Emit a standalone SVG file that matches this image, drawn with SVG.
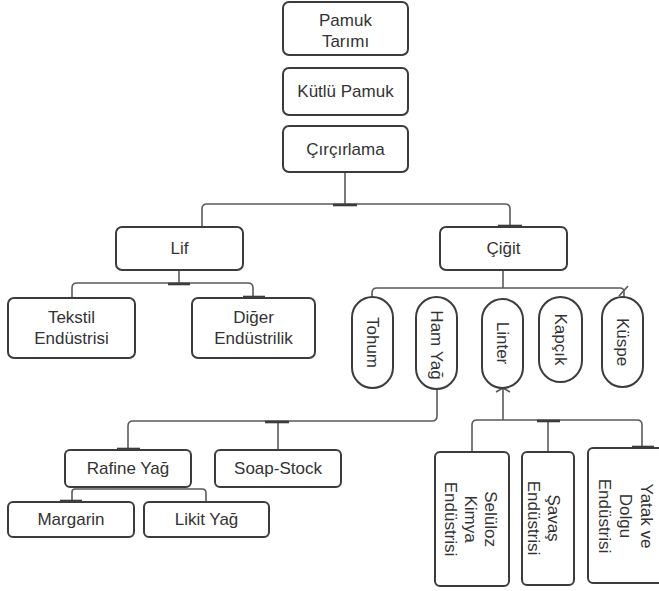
<svg xmlns="http://www.w3.org/2000/svg" width="659" height="591" viewBox="0 0 659 591">
  <style>
    .box { fill: #ffffff; stroke: #3c3c3c; stroke-width: 2; }
    .lbl { font-family: "Liberation Sans", Arial, sans-serif; font-size: 17px; fill: #333333; text-anchor: middle; }
    .wire { fill: none; stroke: #5a5a5a; stroke-width: 1.6; }
    .tick { stroke: #3c3c3c; stroke-width: 2.6; }
  </style>
  <rect x="0" y="0" width="659" height="591" fill="#ffffff"/>

  <g id="connectors">
    <path class="wire" d="M345,172 V204"/>
    <path class="wire" d="M202,227 V209 Q202,204 207,204 H505 Q510,204 510,209 V227"/>
    <line class="tick" x1="333" y1="205" x2="357" y2="205"/>
    <line class="tick" x1="498" y1="226" x2="522" y2="226"/>

    <path class="wire" d="M179,270 V283"/>
    <path class="wire" d="M72,298 V288 Q72,283 77,283 H248 Q253,283 253,288 V298"/>
    <line class="tick" x1="168" y1="284" x2="190" y2="284"/>
    <line class="tick" x1="243" y1="297" x2="265" y2="297"/>

    <path class="wire" d="M503,270 V288"/>
    <path class="wire" d="M372,297 V293 Q372,288 377,288 H620 Q624,288 624,292 V297"/>
    <line class="wire" x1="619" y1="296" x2="628" y2="286"/>

    <path class="wire" d="M437,388 V416 Q437,421 432,421 H133 Q128,421 128,426 V450"/>
    <path class="wire" d="M278,421 V450"/>
    <line class="tick" x1="265" y1="422" x2="289" y2="422"/>
    <line class="tick" x1="117" y1="449" x2="140" y2="449"/>

    <path class="wire" d="M72,502 V492 Q72,489 75,489 H202 Q206,489 206,493 V502"/>
    <line class="tick" x1="60" y1="501" x2="82" y2="501"/>

    <path class="wire" d="M503,388 V420"/>
    <path class="wire" d="M496,392 L503,388 L510,392"/>
    <path class="wire" d="M472,452 V425 Q472,420 477,420 H637 Q642,420 642,425 V448"/>
    <path class="wire" d="M548,420 V452"/>
    <line class="tick" x1="537" y1="421" x2="560" y2="421"/>
    <line class="tick" x1="632" y1="447" x2="654" y2="447"/>
  </g>

  <g id="pamuk-tarimi">
    <rect class="box" x="283" y="2" width="125" height="53" rx="6"/>
    <text class="lbl" x="345.5" y="26">Pamuk</text>
    <text class="lbl" x="345.5" y="47">Tarımı</text>
  </g>
  <g id="kutlu-pamuk">
    <rect class="box" x="283" y="68" width="125" height="47" rx="6"/>
    <text class="lbl" x="345.5" y="97">Kütlü Pamuk</text>
  </g>
  <g id="circirlama">
    <rect class="box" x="283" y="126" width="125" height="46" rx="6"/>
    <text class="lbl" x="345.5" y="155">Çırçırlama</text>
  </g>

  <g id="lif">
    <rect class="box" x="116" y="227" width="127" height="43" rx="6"/>
    <text class="lbl" x="179.5" y="254">Lif</text>
  </g>
  <g id="cigit">
    <rect class="box" x="440" y="227" width="127" height="43" rx="6"/>
    <text class="lbl" x="503.5" y="254">Çiğit</text>
  </g>

  <g id="tekstil">
    <rect class="box" x="8" y="298" width="127" height="60" rx="6"/>
    <text class="lbl" x="71.5" y="323">Tekstil</text>
    <text class="lbl" x="71.5" y="344">Endüstrisi</text>
  </g>
  <g id="diger">
    <rect class="box" x="192" y="298" width="123" height="60" rx="6"/>
    <text class="lbl" x="253.5" y="323">Diğer</text>
    <text class="lbl" x="253.5" y="344">Endüstrilik</text>
  </g>

  <g id="tohum">
    <rect class="box" x="352" y="297" width="41" height="91" rx="20.5"/>
    <text class="lbl" transform="translate(372.5,342.5) rotate(90)" y="6">Tohum</text>
  </g>
  <g id="ham-yag">
    <rect class="box" x="416" y="297" width="41" height="92" rx="20.5"/>
    <text class="lbl" transform="translate(436.5,345) rotate(90)" y="6">Ham Yağ</text>
  </g>
  <g id="linter">
    <rect class="box" x="482" y="299" width="41" height="89" rx="20.5"/>
    <text class="lbl" transform="translate(502.5,343) rotate(90)" y="6">Linter</text>
  </g>
  <g id="kapcik">
    <rect class="box" x="539" y="297" width="43" height="85" rx="21.5"/>
    <text class="lbl" transform="translate(560.5,339.5) rotate(90)" y="6">Kapçık</text>
  </g>
  <g id="kuspe">
    <rect class="box" x="602" y="297" width="41" height="90" rx="20.5"/>
    <text class="lbl" transform="translate(622.5,342) rotate(90)" y="6">Küspe</text>
  </g>

  <g id="rafine-yag">
    <rect class="box" x="65" y="450" width="126" height="37" rx="5"/>
    <text class="lbl" x="128" y="474">Rafine Yağ</text>
  </g>
  <g id="soap-stock">
    <rect class="box" x="215" y="450" width="126" height="37" rx="5"/>
    <text class="lbl" x="278" y="474">Soap-Stock</text>
  </g>
  <g id="margarin">
    <rect class="box" x="8" y="502" width="126" height="35" rx="5"/>
    <text class="lbl" x="71" y="525">Margarin</text>
  </g>
  <g id="likit-yag">
    <rect class="box" x="144" y="502" width="125" height="35" rx="5"/>
    <text class="lbl" x="206.5" y="525">Likit Yağ</text>
  </g>

  <g id="seluloz">
    <rect class="box" x="435" y="452" width="74" height="134" rx="5"/>
    <g transform="translate(471,519) rotate(90)">
      <text class="lbl" y="-14">Selüloz</text>
      <text class="lbl" y="6">Kimya</text>
      <text class="lbl" y="26">Endüstrisi</text>
    </g>
  </g>
  <g id="savas">
    <rect class="box" x="522" y="452" width="52" height="133" rx="5"/>
    <g transform="translate(544,518) rotate(90)">
      <text class="lbl" y="-4">Şavaş</text>
      <text class="lbl" y="16">Endüstrisi</text>
    </g>
  </g>
  <g id="yatak">
    <rect class="box" x="588" y="448" width="82" height="135" rx="5"/>
    <g transform="translate(626,516) rotate(90)">
      <text class="lbl" y="-15">Yatak ve</text>
      <text class="lbl" y="6">Dolgu</text>
      <text class="lbl" y="27">Endüstrisi</text>
    </g>
  </g>
</svg>
